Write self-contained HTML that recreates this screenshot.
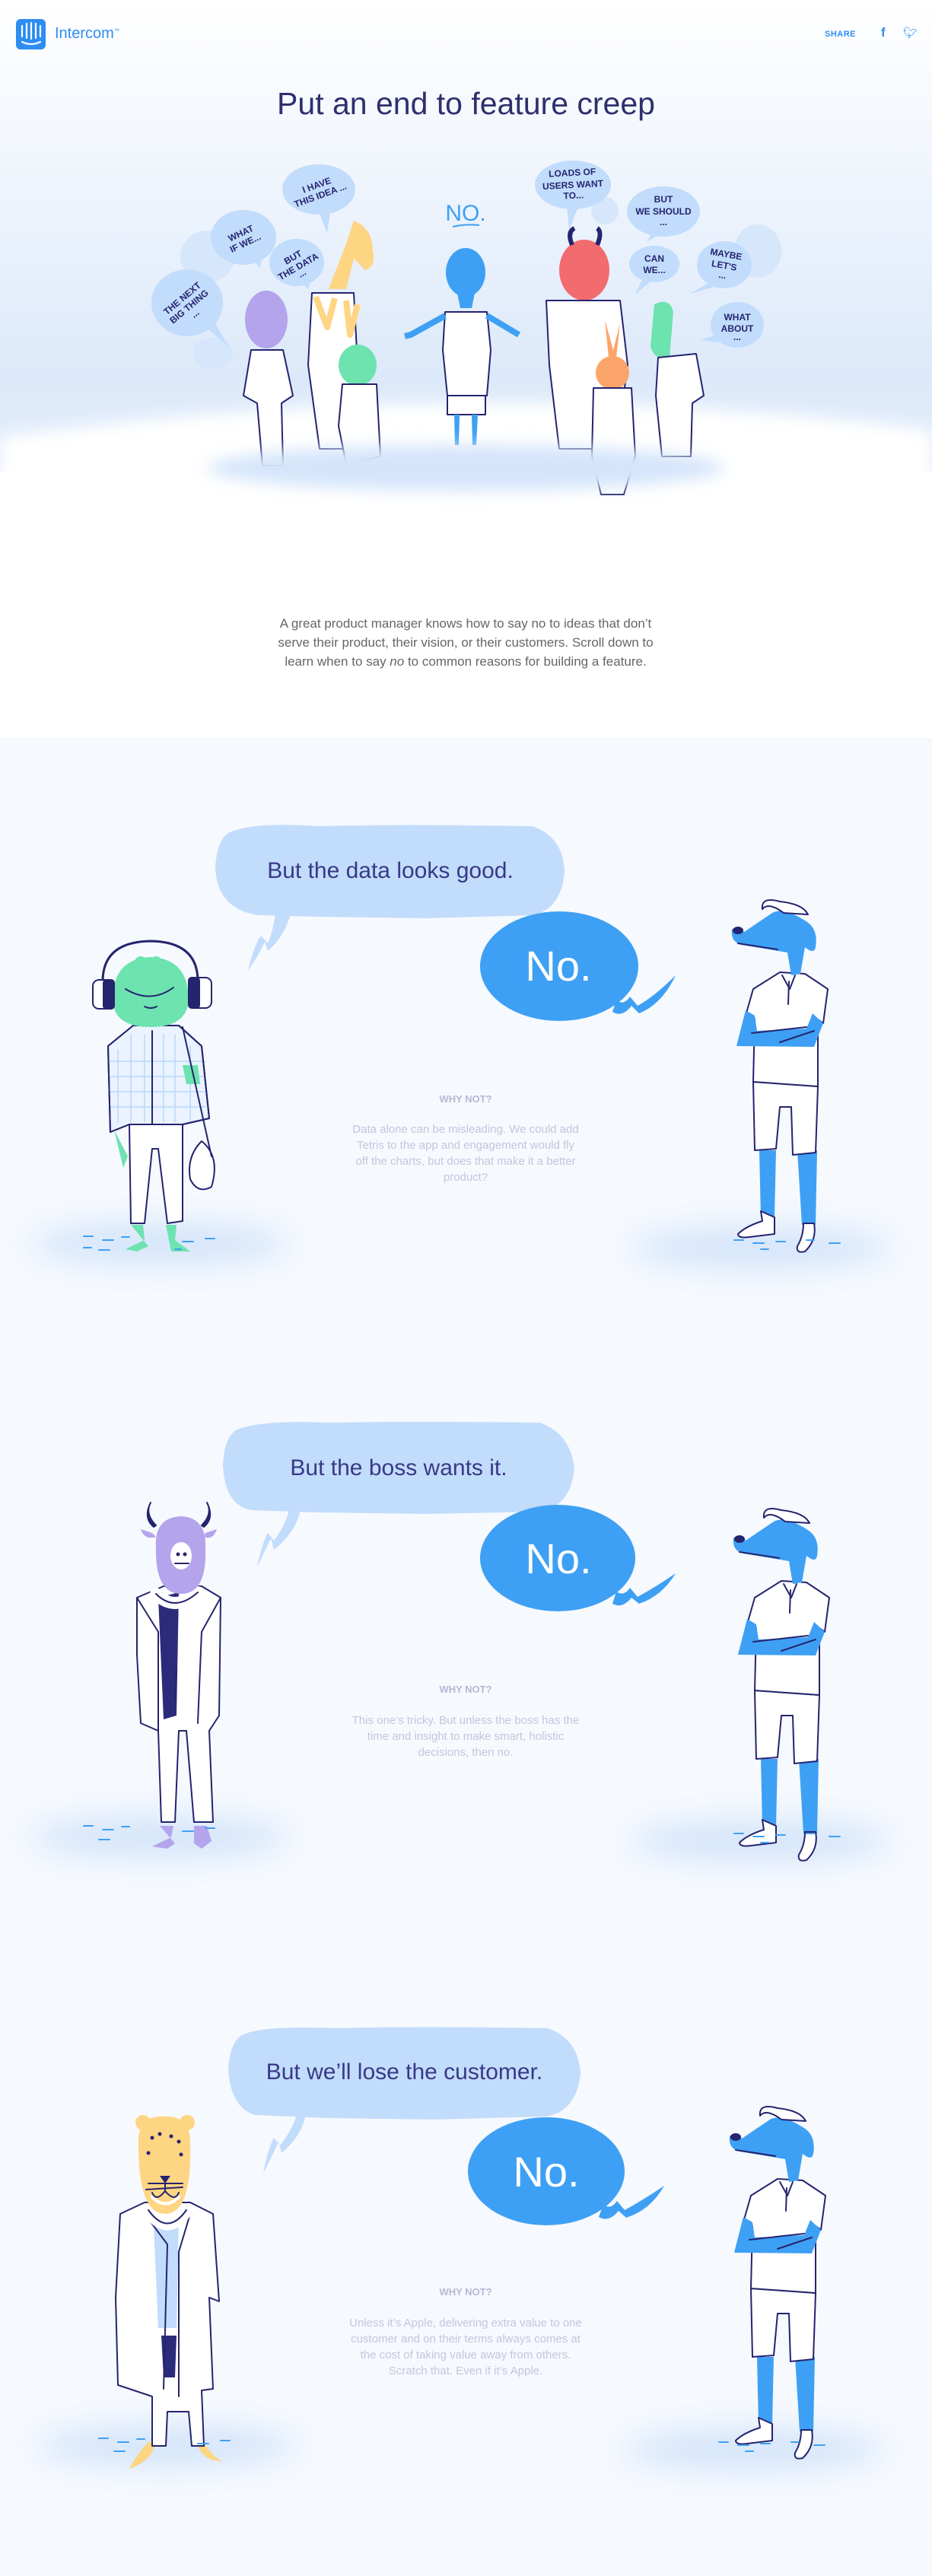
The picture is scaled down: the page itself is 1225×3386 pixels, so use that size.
<!DOCTYPE html>
<html><head><meta charset="utf-8">
<style>
html,body{margin:0;padding:0}
body{width:1225px;height:3386px;position:relative;overflow:hidden;font-family:"Liberation Sans",sans-serif;background:#f6f9fe}
.abs{position:absolute}
.c{text-align:center}
</style></head><body>
<svg class="abs" style="left:0;top:0" width="1225" height="3386" viewBox="0 0 1225 3386">
<defs>
<linearGradient id="hero" x1="0" y1="0" x2="0" y2="1">
<stop offset="0" stop-color="#ffffff"/>
<stop offset="0.3" stop-color="#f3f7fd"/>
<stop offset="0.8" stop-color="#dce9fa"/>
<stop offset="1" stop-color="#e6eefb"/>
</linearGradient>
<filter id="bl" x="-20%" y="-50%" width="140%" height="200%"><feGaussianBlur stdDeviation="10"/></filter>
<filter id="bl2" x="-20%" y="-50%" width="140%" height="200%"><feGaussianBlur stdDeviation="20"/></filter>
<symbol id="dog" viewBox="0 0 200 500" width="200" height="500">
<g stroke="#25246e" stroke-width="2" stroke-linecap="round" stroke-linejoin="round">
<path d="M58 352 L80 352 L78 440 L60 440Z" fill="#3ea0f4" stroke="none"/>
<path d="M108 352 L134 352 L132 450 L114 450Z" fill="#3ea0f4" stroke="none"/>
<path d="M60 432 L62 445 Q40 452 30 462 Q30 468 45 466 L78 462 L78 440 Z" fill="#fff"/>
<path d="M116 448 L130 448 Q134 470 118 485 Q106 488 108 478 Q116 465 116 448Z" fill="#fff"/>
<path d="M50 262 L135 268 L132 355 L102 358 L100 295 L85 295 L80 350 L52 352Z" fill="#fff"/>
<path d="M50 140 L85 118 L118 120 L148 140 L142 185 L135 180 L135 268 L50 262 L52 180 L40 175Z" fill="#fff"/>
<path d="M88 122 L98 140 L105 122 M97 130 L96 160" fill="none"/>
<path d="M40 168 L28 215 L130 216 L142 185 L128 172 L120 192 L55 195 L52 175Z" fill="#3ea0f4" stroke="none"/>
<path d="M48 198 L120 190 M85 210 L130 195" fill="none"/>
<path d="M38 65 Q30 55 22 62 Q20 78 35 82 L95 92 L100 122 L112 120 L118 85 Q130 95 132 85 Q136 60 118 50 Q90 32 75 40 Z" fill="#3ea0f4" stroke="none"/>
<ellipse cx="30" cy="63" rx="7" ry="5" fill="#25246e" stroke="none"/>
<path d="M30 80 L82 88" fill="none"/>
<path d="M62 35 Q60 18 85 25 Q115 28 122 42 L90 40 Q70 25 62 35Z" fill="#fff"/>
</g>
</symbol>
</defs>
<!-- hero background -->
<rect x="0" y="0" width="1225" height="971" fill="#fff"/>
<rect x="0" y="0" width="1225" height="620" fill="url(#hero)"/>
<path d="M0 575 Q612 490 1225 565 L1225 740 L0 740Z" fill="#fff" filter="url(#bl)"/>
<rect x="0" y="660" width="1225" height="311" fill="#fff"/>
<line x1="0" y1="971" x2="1225" y2="971" stroke="#eef2f8"/>
<!-- logo -->
<rect x="21" y="25" width="39" height="40" rx="6" fill="#2d8df2"/>
<g stroke="#fff" stroke-width="2.2" stroke-linecap="round"><line x1="29" y1="34" x2="29" y2="48"/><line x1="35" y1="31" x2="35" y2="50"/><line x1="41" y1="30" x2="41" y2="51"/><line x1="47" y1="31" x2="47" y2="50"/><line x1="53" y1="34" x2="53" y2="48"/><path d="M29 55 Q41 61 53 55" fill="none"/></g>
<!-- hero faint bubbles -->
<g fill="#d6e6fb"><ellipse cx="273" cy="337" rx="36" ry="34"/><ellipse cx="280" cy="464" rx="26" ry="21"/><ellipse cx="996" cy="330" rx="31" ry="35"/><ellipse cx="795" cy="277" rx="18" ry="18"/></g>
<g fill="#c2dcfc">
<ellipse cx="246" cy="398" rx="47" ry="44"/><path d="M270 430 L300 455 L280 420Z"/>
<ellipse cx="320" cy="312" rx="43" ry="36"/><path d="M330 340 L342 352 L345 332Z"/>
<ellipse cx="419" cy="249" rx="48" ry="33"/><path d="M418 275 L430 307 L435 272Z"/>
<ellipse cx="390" cy="345" rx="36" ry="31"/><path d="M395 370 L405 380 L410 365Z"/>
<ellipse cx="753" cy="243" rx="50" ry="32"/><path d="M745 270 L748 302 L760 272Z"/>
<ellipse cx="872" cy="278" rx="48" ry="33"/><path d="M860 300 L850 318 L872 305Z"/>
<ellipse cx="860" cy="347" rx="33" ry="24"/><path d="M845 365 L835 387 L858 368Z"/>
<ellipse cx="952" cy="348" rx="36" ry="31"/><path d="M935 370 L905 387 L945 375Z"/>
<ellipse cx="969" cy="427" rx="35" ry="30"/><path d="M940 440 L920 447 L945 450Z"/>
</g>
<g font-family="Liberation Sans,sans-serif" font-size="12" fill="#25246e" text-anchor="middle" font-weight="bold">
<text transform="translate(246,400) rotate(-40)"><tspan x="0" y="-6">THE NEXT</tspan><tspan x="0" y="8">BIG THING</tspan><tspan x="0" y="20">...</tspan></text>
<text transform="translate(320,314) rotate(-25)"><tspan x="0" y="-4">WHAT</tspan><tspan x="0" y="10">IF WE...</tspan></text>
<text transform="translate(419,251) rotate(-20)"><tspan x="0" y="-4">I HAVE</tspan><tspan x="0" y="10">THIS IDEA ...</tspan></text>
<text transform="translate(390,347) rotate(-30)"><tspan x="0" y="-6">BUT</tspan><tspan x="0" y="8">THE DATA</tspan><tspan x="0" y="18">...</tspan></text>
<text transform="translate(753,243) rotate(-3)"><tspan x="0" y="-12">LOADS OF</tspan><tspan x="0" y="4">USERS WANT</tspan><tspan x="0" y="18">TO...</tspan></text>
<text transform="translate(872,278)"><tspan x="0" y="-12">BUT</tspan><tspan x="0" y="4">WE SHOULD</tspan><tspan x="0" y="18">...</tspan></text>
<text transform="translate(860,347)"><tspan x="0" y="-3">CAN</tspan><tspan x="0" y="12">WE...</tspan></text>
<text transform="translate(952,348) rotate(10)"><tspan x="0" y="-10">MAYBE</tspan><tspan x="0" y="5">LET'S</tspan><tspan x="0" y="18">...</tspan></text>
<text transform="translate(969,427)"><tspan x="0" y="-6">WHAT</tspan><tspan x="0" y="9">ABOUT</tspan><tspan x="0" y="20">...</tspan></text>
</g>
<text x="612" y="290" font-family="Liberation Sans,sans-serif" font-size="30" fill="#3ea0f4" text-anchor="middle">NO.</text>
<path d="M595 298 Q612 294 630 296" stroke="#3ea0f4" stroke-width="2" fill="none"/>
<!-- hero characters -->
<g stroke="#25246e" stroke-width="2" stroke-linejoin="round">
<!-- purple -->
<ellipse cx="350" cy="420" rx="28" ry="38" fill="#b3a4ec" stroke="none"/>
<path d="M330 460 L372 460 L385 520 L370 530 L372 612 L345 612 L338 530 L320 520Z" fill="#fff"/>
<!-- giraffe -->
<path d="M465 290 Q490 300 490 330 Q495 350 480 355 L465 340 L455 380 L432 380 L455 320Z" fill="#fed583" stroke="none"/>
<path d="M410 385 L465 385 L470 480 L455 590 L420 590 L405 480Z" fill="#fff"/>
<path d="M415 390 L430 430 L440 392 M455 395 L460 440 L470 400" stroke="#fed583" stroke-width="8" fill="none"/>
<!-- green bunny -->
<ellipse cx="470" cy="480" rx="25" ry="27" fill="#6de3b0" stroke="none"/>
<path d="M450 505 L495 505 L500 600 L455 610 L445 560Z" fill="#fff"/>
<!-- center dog -->
<ellipse cx="612" cy="358" rx="26" ry="32" fill="#3ea0f4" stroke="none"/>
<path d="M600 380 L625 380 L620 405 L605 405Z" fill="#3ea0f4" stroke="none"/>
<path d="M585 410 L640 410 L645 460 L640 520 L588 520 L582 460Z" fill="#fff"/>
<path d="M585 415 L540 440 L532 442 M640 415 L682 440" stroke="#3ea0f4" stroke-width="8" fill="none"/>
<path d="M588 520 L638 520 L638 545 L588 545Z" fill="#fff"/>
<path d="M597 545 L604 545 L603 585 L598 585Z M620 545 L628 545 L626 585 L621 585Z" fill="#3ea0f4" stroke="none"/>
<!-- bull -->
<ellipse cx="768" cy="355" rx="33" ry="40" fill="#f26b6f" stroke="none"/>
<path d="M752 322 Q745 305 755 300 M785 322 Q792 305 785 300" stroke="#25246e" stroke-width="6" fill="none"/>
<path d="M718 395 L815 395 L825 480 L810 590 L735 590 L722 480Z" fill="#fff"/>
<!-- orange rabbit -->
<path d="M795 420 L800 470 L810 470 L815 425 L806 460Z" fill="#fca56a" stroke="none"/>
<ellipse cx="805" cy="490" rx="22" ry="22" fill="#fca56a" stroke="none"/>
<path d="M780 510 L830 510 L835 600 L820 650 L790 650 L778 600Z" fill="#fff"/>
<!-- croc -->
<path d="M860 400 Q880 390 885 410 L880 470 Q860 475 855 455 Z" fill="#6de3b0" stroke="none"/>
<path d="M865 470 L915 465 L925 520 L910 530 L908 600 L870 600 L862 520Z" fill="#fff"/>
</g>
<g fill="#d4e5fa" filter="url(#bl)"><ellipse cx="612" cy="615" rx="340" ry="30"/></g>

<!-- section ground shadows -->
<g fill="#d4e5fa" filter="url(#bl2)">
<ellipse cx="210" cy="1635" rx="170" ry="28"/><ellipse cx="1000" cy="1640" rx="170" ry="28"/>
<ellipse cx="210" cy="2415" rx="170" ry="28"/><ellipse cx="1000" cy="2420" rx="170" ry="28"/>
<ellipse cx="220" cy="3215" rx="170" ry="28"/><ellipse cx="990" cy="3220" rx="170" ry="28"/>
</g>

<!-- bubbles section 1 -->
<path d="M300 1095 Q330 1080 420 1086 Q520 1083 700 1086 Q740 1100 742 1145 Q738 1195 700 1203 L560 1207 L420 1205 L340 1203 Q285 1195 283 1140 Q285 1105 300 1095Z" fill="#c2dcfc"/>
<path d="M362 1200 L382 1200 Q375 1230 352 1250 L348 1238 Q338 1260 326 1275 Q335 1240 343 1230 L352 1240 Q360 1220 362 1200Z" fill="#c2dcfc"/>
<ellipse cx="735" cy="1270" rx="104" ry="72" fill="#3ea0f4"/>
<path d="M810 1315 Q820 1322 828 1310 L838 1322 Q860 1310 888 1282 Q870 1320 840 1332 L830 1322 Q818 1338 805 1330Z" fill="#3ea0f4"/>
<!-- bubbles section 2 -->
<path d="M310 1880 Q340 1866 430 1870 Q540 1868 710 1870 Q750 1885 755 1930 Q750 1980 710 1987 L560 1990 L420 1988 L330 1985 Q295 1978 293 1925 Q295 1890 310 1880Z" fill="#c2dcfc"/>
<path d="M380 1985 L395 1985 Q388 2015 360 2037 L356 2022 Q345 2045 338 2060 Q344 2030 352 2015 L360 2025 Q375 2005 380 1985Z" fill="#c2dcfc"/>
<ellipse cx="733" cy="2048" rx="102" ry="70" fill="#3ea0f4"/>
<path d="M810 2092 Q820 2099 828 2087 L838 2099 Q862 2086 888 2068 Q870 2098 840 2108 L830 2100 Q818 2115 805 2108Z" fill="#3ea0f4"/>
<!-- bubbles section 3 -->
<path d="M318 2675 Q345 2662 440 2666 Q550 2663 720 2666 Q760 2680 763 2725 Q758 2775 718 2782 L570 2786 L430 2784 L335 2780 Q303 2770 300 2720 Q302 2685 318 2675Z" fill="#c2dcfc"/>
<path d="M390 2780 L402 2780 Q395 2810 370 2830 L366 2815 Q355 2840 346 2856 Q352 2825 360 2810 L368 2820 Q384 2800 390 2780Z" fill="#c2dcfc"/>
<ellipse cx="718" cy="2854" rx="103" ry="71" fill="#3ea0f4"/>
<path d="M793 2898 Q803 2905 811 2893 L821 2905 Q845 2892 873 2873 Q855 2905 823 2915 L813 2906 Q800 2922 787 2914Z" fill="#3ea0f4"/>

<!-- dogs -->
<use href="#dog" x="940" y="1160"/>
<use href="#dog" x="942" y="1960"/>
<use href="#dog" x="937" y="2746"/>

<!-- frog -->
<g transform="translate(100,1220)" stroke="#25246e" stroke-width="2" stroke-linejoin="round" stroke-linecap="round">
<path d="M72 390 L88 390 L90 410 L65 422 L80 425 L95 418 Z M118 390 L132 390 L130 410 L150 425 L125 425 Z" fill="#6de3b0" stroke="none"/>
<path d="M70 258 L140 258 L140 385 L120 388 L108 290 L100 290 L90 388 L72 388 Z" fill="#fff"/>
<path d="M42 155 L75 128 L135 128 L165 155 L175 250 L140 258 L70 258 L45 268 Z" fill="#eaf3ff"/>
<g stroke="#b9d8fb" stroke-width="1.5"><path d="M55 160 L55 255 M72 140 L72 255 M90 140 L90 255 M115 140 L115 255 M130 140 L130 255 M150 155 L150 255 M45 175 L170 175 M45 195 L170 195 M45 215 L170 215 M45 235 L170 235"/></g>
<path d="M42 155 L75 128 L135 128 L165 155 L175 250 L140 258 L70 258 L45 268 Z M100 135 L100 258" fill="none"/>
<path d="M50 265 L62 315 L68 300 Z" fill="#6de3b0" stroke="none"/>
<path d="M140 180 L160 180 L163 205 L145 205Z" fill="#6de3b0" stroke="none"/>
<path d="M140 130 L178 300 M165 280 Q190 300 178 340 Q160 350 150 330 Q145 300 165 280Z" fill="#fff"/>
<path d="M48 95 Q48 40 98 38 Q148 40 148 95 Q145 130 98 130 Q50 130 48 95Z" fill="#6de3b0" stroke="none"/>
<circle cx="85" cy="45" r="8" fill="#6de3b0" stroke="none"/><circle cx="105" cy="45" r="8" fill="#6de3b0" stroke="none"/>
<path d="M65 80 Q98 100 128 78 M90 103 Q98 107 106 103" fill="none"/>
<path d="M35 70 Q35 18 98 17 Q160 18 160 70" fill="none" stroke-width="3"/>
<rect x="22" y="68" width="28" height="38" rx="8" fill="#fff"/><rect x="36" y="68" width="14" height="38" rx="4" fill="#25246e"/>
<rect x="148" y="65" width="30" height="40" rx="8" fill="#fff"/><rect x="148" y="65" width="14" height="40" rx="4" fill="#25246e"/>
</g>

<!-- bull -->
<g transform="translate(160,1975)" stroke="#25246e" stroke-width="2" stroke-linejoin="round" stroke-linecap="round">
<path d="M50 425 L68 425 L65 440 L40 452 L60 455 L70 448 Z M95 425 L112 425 L118 445 L105 455 L95 448Z" fill="#b3a4ec" stroke="none"/>
<path d="M20 125 L55 110 L105 110 L130 125 L128 280 L115 300 L120 420 L95 420 L85 300 L75 300 L70 420 L52 420 L48 300 L25 290 L20 200Z" fill="#fff"/>
<path d="M48 125 L75 118 L72 280 L55 285Z" fill="#2c2b7b" stroke="none"/>
<path d="M70 260 L72 220 M20 125 L48 170 L48 300 M130 125 L105 170 L100 290" fill="none"/>
<path d="M45 120 Q70 145 100 118" stroke="#fff" stroke-width="16" fill="none"/>
<path d="M45 120 Q70 145 100 118" fill="none"/>
<path d="M45 60 Q42 20 78 18 Q112 20 110 60 Q112 120 78 120 Q44 120 45 60Z" fill="#b3a4ec" stroke="none"/>
<path d="M40 40 L25 35 Q30 50 45 45Z M110 40 L125 35 Q120 50 108 45Z" fill="#b3a4ec" stroke="none"/>
<path d="M45 30 Q30 15 38 0 Q28 20 42 32Z M105 30 Q120 15 112 0 Q122 20 108 32Z" fill="#25246e"/>
<ellipse cx="78" cy="70" rx="14" ry="18" fill="#fff" stroke="none"/>
<circle cx="74" cy="68" r="2.5" fill="#25246e" stroke="none"/><circle cx="83" cy="68" r="2.5" fill="#25246e" stroke="none"/>
<path d="M70 80 L88 80" fill="none"/>
</g>

<!-- leopard -->
<g transform="translate(140,2770)" stroke="#25246e" stroke-width="2" stroke-linejoin="round" stroke-linecap="round">
<path d="M55 440 L65 440 Q60 465 30 475 Q40 455 55 440Z M118 440 L128 440 Q140 460 152 465 Q125 465 118 440Z" fill="#fed583" stroke="none"/>
<path d="M18 140 L50 125 L110 125 L140 140 L148 255 L135 250 L140 370 L125 372 L128 445 L112 445 L108 400 L80 400 L78 445 L60 445 L60 380 L15 365 L12 250 Z" fill="#fff"/>
<path d="M62 155 L95 150 L92 290 L68 290Z" fill="#c2dcfc" stroke="none"/>
<path d="M72 300 L92 300 L90 355 L75 355Z" fill="#2c2b7b" stroke="none"/>
<path d="M50 140 L80 180 L75 370 M110 140 L95 190 L95 380" fill="none"/>
<path d="M55 135 Q80 170 105 135" stroke="#fff" stroke-width="18" fill="none"/>
<path d="M55 135 Q80 170 105 135" fill="none"/>
<path d="M42 50 Q40 10 75 12 Q112 10 110 50 Q112 140 77 140 Q42 140 42 50Z" fill="#fed583" stroke="none"/>
<circle cx="48" cy="20" r="10" fill="#fed583" stroke="none"/><circle cx="106" cy="20" r="10" fill="#fed583" stroke="none"/>
<g fill="#25246e" stroke="none"><circle cx="60" cy="40" r="2.5"/><circle cx="70" cy="35" r="2.5"/><circle cx="85" cy="38" r="2.5"/><circle cx="95" cy="45" r="2.5"/><circle cx="55" cy="60" r="2.5"/><circle cx="98" cy="62" r="2.5"/><path d="M70 90 L84 90 L77 100Z"/></g>
<path d="M55 100 L100 100 M52 108 L100 105 M77 100 L77 110 Q65 125 60 112 M77 110 Q90 125 95 112" fill="none"/>
<path d="M60 118 Q77 135 95 118" stroke="#fff" stroke-width="4" fill="none"/>
</g>

<!-- water dashes -->
<g stroke="#3ea0f4" stroke-width="2" stroke-linecap="round">
<path d="M110 1625h12M135 1630h14M160 1626h10M240 1632h14M270 1628h12M110 1640h10M130 1643h14M230 1642h8M965 1630h12M990 1634h14M1020 1632h12M1060 1630h10M1090 1634h14M1000 1642h10"/>
<path d="M110 2400h12M135 2405h14M160 2401h10M240 2407h14M270 2403h12M130 2418h14M965 2410h12M990 2414h14M1020 2412h12M1060 2410h10M1090 2414h14M1000 2422h10"/>
<path d="M130 3205h12M155 3210h14M180 3206h10M260 3212h14M290 3208h12M150 3222h14M945 3210h12M970 3214h14M1000 3212h12M1040 3210h10M1070 3214h14M980 3222h10"/>
</g>
</svg>

<div class="abs" style="left:72px;top:33px;font-size:20px;color:#2d8df2">Intercom<sup style="font-size:7px">™</sup></div>
<div class="abs" style="left:1084px;top:39px;font-size:11px;color:#2d8df2;font-weight:bold;letter-spacing:0.5px">SHARE</div>
<div class="abs" style="left:1158px;top:33px;font-size:17px;color:#2d8df2;font-weight:bold">f</div>
<div class="abs" style="left:1187px;top:34px;font-size:15px;color:#2d8df2">🐦︎</div>

<div class="abs c" style="left:0;width:1225px;top:113px;font-size:41px;color:#2f2f6e">Put an end to feature creep</div>

<div class="abs c" style="left:282px;width:660px;top:807px;font-size:17px;line-height:25px;color:#666">A great product manager knows how to say no to ideas that don’t<br>serve their product, their vision, or their customers. Scroll down to<br>learn when to say <i>no</i> to common reasons for building a feature.</div>

<div class="abs c" style="left:283px;width:460px;top:1128px;font-size:30px;color:#393886">But the data looks good.</div>
<div class="abs c" style="left:631px;width:206px;top:1237px;font-size:56px;color:#fff">No.</div>
<div class="abs c" style="left:412px;width:400px;top:1437px;font-size:13px;font-weight:bold;color:#b6b7d3">WHY NOT?</div>
<div class="abs c" style="left:432px;width:360px;top:1474px;font-size:15px;line-height:21px;color:#c3c6dc">Data alone can be misleading. We could add<br>Tetris to the app and engagement would fly<br>off the charts, but does that make it a better<br>product?</div>

<div class="abs c" style="left:293px;width:462px;top:1913px;font-size:30px;color:#393886">But the boss wants it.</div>
<div class="abs c" style="left:631px;width:206px;top:2016px;font-size:56px;color:#fff">No.</div>
<div class="abs c" style="left:412px;width:400px;top:2213px;font-size:13px;font-weight:bold;color:#b6b7d3">WHY NOT?</div>
<div class="abs c" style="left:432px;width:360px;top:2251px;font-size:15px;line-height:21px;color:#c3c6dc">This one’s tricky. But unless the boss has the<br>time and insight to make smart, holistic<br>decisions, then no.</div>

<div class="abs c" style="left:300px;width:463px;top:2707px;font-size:30px;color:#393886">But we’ll lose the customer.</div>
<div class="abs c" style="left:615px;width:206px;top:2822px;font-size:56px;color:#fff">No.</div>
<div class="abs c" style="left:412px;width:400px;top:3005px;font-size:13px;font-weight:bold;color:#b6b7d3">WHY NOT?</div>
<div class="abs c" style="left:422px;width:380px;top:3043px;font-size:15px;line-height:21px;color:#c3c6dc">Unless it’s Apple, delivering extra value to one<br>customer and on their terms always comes at<br>the cost of taking value away from others.<br>Scratch that. Even if it’s Apple.</div>
</body></html>
